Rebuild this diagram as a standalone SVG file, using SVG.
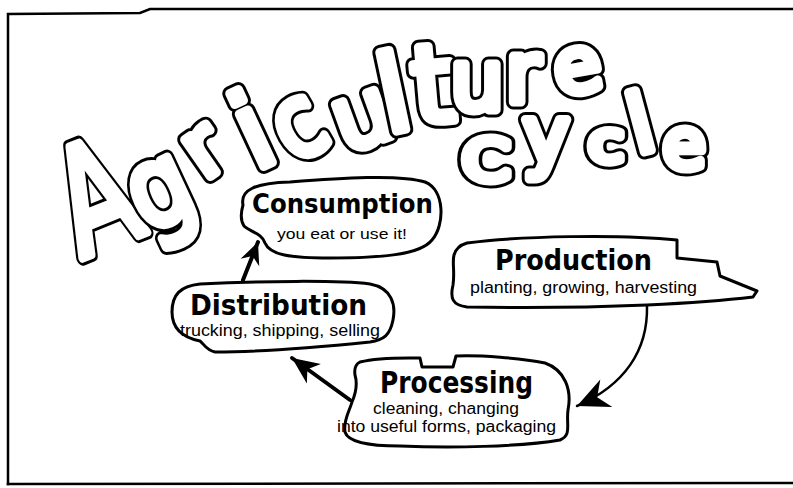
<svg xmlns="http://www.w3.org/2000/svg" width="793" height="488" viewBox="0 0 793 488">
  <style>
    .frame { fill: none; stroke: #000; stroke-width: 2.5; stroke-linecap: square; }
    .blob { fill: #fff; stroke: #000; stroke-width: 3; stroke-linejoin: round; }
    .title { font-family: "DejaVu Sans", "Liberation Sans", sans-serif; font-weight: bold; fill: #000; }
    .sub { font-family: "Liberation Sans", "DejaVu Sans", sans-serif; fill: #000; }
    .bub { font-family: "DejaVu Sans", "Liberation Sans", sans-serif; text-anchor: middle; }
    .bub .o { fill: #000; stroke: #000; stroke-width: 15; stroke-linejoin: round; }
    .bub .i { fill: #fff; stroke: #fff; stroke-width: 9; stroke-linejoin: round; }
    .conn { fill: none; stroke: #000; stroke-linecap: round; }
  </style>
  <defs>
    <marker id="head-lg" markerUnits="userSpaceOnUse" viewBox="-34 -18 36 36" markerWidth="36" markerHeight="36" refX="0" refY="0" orient="auto">
      <path d="M0,0 L-32,-15 L-22,0 L-32,15 Z" fill="#000"/>
    </marker>
    <marker id="head-md" markerUnits="userSpaceOnUse" viewBox="-30 -14 32 28" markerWidth="32" markerHeight="28" refX="0" refY="0" orient="auto">
      <path d="M0,0 L-27,-12 L-19,0 L-27,12 Z" fill="#000"/>
    </marker>
    <marker id="head-sm" markerUnits="userSpaceOnUse" viewBox="-24 -12 26 24" markerWidth="26" markerHeight="24" refX="0" refY="0" orient="auto">
      <path d="M0,0 L-22,-10 L-15,0 L-22,10 Z" fill="#000"/>
    </marker>
  </defs>

  <rect width="793" height="488" fill="#fff"/>

  <!-- outer frame -->
  <path class="frame" d="M8,484 L8,14 L140,13 L150,9 L793,9"/>
  <path class="frame" d="M8,484 L793,483"/>

  <!-- bubble-letter heading: each letter is an outline pass plus a white inner pass -->
  <g id="heading" class="bub">
    <g transform="translate(95,196) rotate(-22) scale(0.72,1)" font-size="148"><text class="o" y="53">A</text><text class="i" y="53">A</text></g>
    <g transform="translate(167,206) rotate(-25) scale(0.85,1)" font-size="112"><text class="o" y="17">g</text><text class="i" y="17">g</text></g>
    <g transform="translate(206,154) rotate(-35)" font-size="82"><text class="o" y="21">r</text><text class="i" y="21">r</text></g>
    <g transform="translate(252,130) rotate(-25)" font-size="106"><text class="o" y="38">i</text><text class="i" y="38">i</text></g>
    <g transform="translate(301,130) rotate(-30) scale(0.85,1)" font-size="100"><text class="o" y="26">c</text><text class="i" y="26">c</text></g>
    <g transform="translate(364,122) rotate(-20)" font-size="90"><text class="o" y="23">u</text><text class="i" y="23">u</text></g>
    <g transform="translate(393,92) rotate(-12)" font-size="106"><text class="o" y="39">l</text><text class="i" y="39">l</text></g>
    <g transform="translate(433,86) rotate(-5)" font-size="108"><text class="o" y="36">t</text><text class="i" y="36">t</text></g>
    <g transform="translate(477,88)" font-size="84"><text class="o" y="22">u</text><text class="i" y="22">u</text></g>
    <g transform="translate(523,80)" font-size="84"><text class="o" y="22">r</text><text class="i" y="22">r</text></g>
    <g transform="translate(578,72) rotate(-10)" font-size="77"><text class="o" y="20">e</text><text class="i" y="20">e</text></g>
    <g transform="translate(486,160) scale(1.2,1)" font-size="57"><text class="o" y="21">C</text><text class="i" y="21">C</text></g>
    <g transform="translate(546,151)" font-size="78"><text class="o" y="12">y</text><text class="i" y="12">y</text></g>
    <g transform="translate(606,146) scale(1.15,1)" font-size="56"><text class="o" y="15">c</text><text class="i" y="15">c</text></g>
    <g transform="translate(640,122) rotate(-15)" font-size="81"><text class="o" y="30">l</text><text class="i" y="30">l</text></g>
    <g transform="translate(684,150)" font-size="70"><text class="o" y="18">e</text><text class="i" y="18">e</text></g>
  </g>

  <!-- connectors -->
  <g id="connectors">
    <path class="conn" stroke-width="2.5" d="M647,306 C648,350 625,385 577,406" marker-end="url(#head-lg)"/>
    <path class="conn" stroke-width="4" d="M350,400 L292,358" marker-end="url(#head-md)"/>
    <path class="conn" stroke-width="4" d="M243,280 L258,242" marker-end="url(#head-sm)"/>
  </g>

  <!-- nodes -->
  <g id="consumption">
    <path class="blob" d="M243,205 C240,190 255,183 290,182 C340,178 400,174 425,182 C445,190 445,225 432,240 C420,255 380,258 330,258 C290,258 270,255 265,243 C262,233 250,232 244,226 C240,220 241,212 243,205 Z"/>
    <text class="title" x="252" y="213" font-size="27" textLength="181" lengthAdjust="spacingAndGlyphs">Consumption</text>
    <text class="sub" x="277" y="239" font-size="15" textLength="130" lengthAdjust="spacingAndGlyphs">you eat or use it!</text>
  </g>

  <g id="distribution">
    <path class="blob" d="M200,341 C185,338 172,330 172,312 C172,295 180,286 200,284 C260,281 340,280 370,284 C392,288 396,305 393,320 C390,335 384,340 370,342 C330,346 260,352 215,352 C206,350 204,344 200,341 Z"/>
    <text class="title" x="190" y="315" font-size="28" textLength="177" lengthAdjust="spacingAndGlyphs">Distribution</text>
    <text class="sub" x="180" y="336" font-size="16" textLength="200" lengthAdjust="spacingAndGlyphs">trucking, shipping, selling</text>
  </g>

  <g id="production">
    <path class="blob" d="M467,243 C520,236 620,234 677,240 L677,258 L717,262 L720,276 L757,291 L753,297 C720,301 690,303 647,305 C600,307 520,308 467,307 C452,305 450,298 453,285 C455,272 452,262 454,255 C456,248 460,245 467,243 Z"/>
    <text class="title" x="495" y="270" font-size="28" textLength="157" lengthAdjust="spacingAndGlyphs">Production</text>
    <text class="sub" x="470" y="293" font-size="16" textLength="227" lengthAdjust="spacingAndGlyphs">planting, growing, harvesting</text>
  </g>

  <g id="processing">
    <path class="blob" d="M360,362 C380,357 405,358 420,358 L422,367 L453,367 L456,356 C480,355 520,358 545,363 C565,370 572,390 568,410 C566,425 572,435 560,440 C520,447 450,448 400,446 C370,446 348,442 345,432 C343,420 350,410 352,402 C355,395 358,385 355,375 C354,368 356,364 360,362 Z"/>
    <text class="title" x="380" y="393" font-size="30" textLength="153" lengthAdjust="spacingAndGlyphs">Processing</text>
    <text class="sub" x="373" y="414" font-size="16" textLength="146" lengthAdjust="spacingAndGlyphs">cleaning, changing</text>
    <text class="sub" x="337" y="432" font-size="16" textLength="219" lengthAdjust="spacingAndGlyphs">into useful forms, packaging</text>
  </g>
</svg>
